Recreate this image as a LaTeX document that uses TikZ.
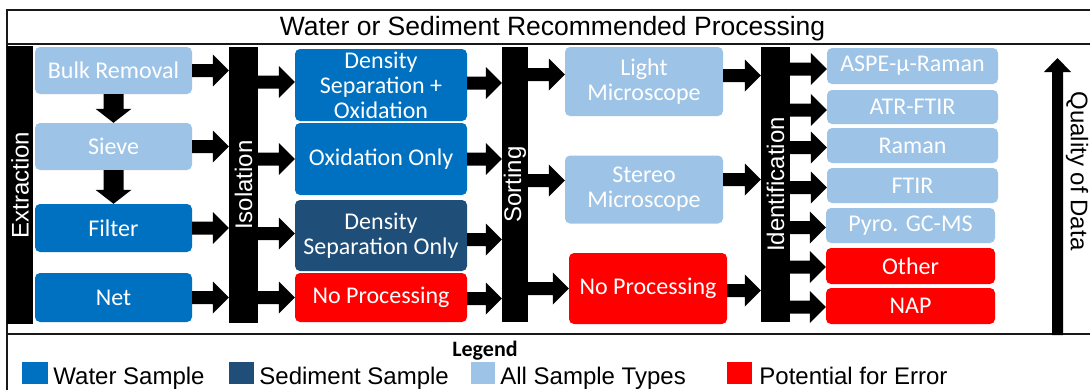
\documentclass[tikz,border=0pt]{standalone}
\usepackage{fontspec}
\usepackage{graphicx}
\setmainfont{Liberation Sans}
\newfontfamily\boxfont{Carlito}
\usetikzlibrary{calc}

\definecolor{lightbl}{HTML}{9DC3E6}
\definecolor{waterbl}{HTML}{0070C0}
\definecolor{sedbl}{HTML}{1F4E79}
\definecolor{errred}{HTML}{FF0000}

\tikzset{
  stage/.style={rounded corners=5pt, inner sep=0pt, align=center, text=white,
    font=\boxfont\fontsize{24}{25}\selectfont},
  allbox/.style={stage, fill=lightbl},
  waterbox/.style={stage, fill=waterbl},
  sedbox/.style={stage, fill=sedbl},
  errbox/.style={stage, fill=errred},
  bar/.style={fill=black, inner sep=0pt, text=white, font=\fontsize{24}{28}\selectfont},
  frameline/.style={line width=2pt, draw=black!90},
  keybox/.style={inner sep=0pt, minimum height=22pt},
  keytext/.style={anchor=base west, inner sep=0pt, font=\fontsize{24}{28}\selectfont},
}

% block arrow pointing right: shaft from #1, tip at the x of #2
\newcommand\blockright[2]{%
  \fill let \p1=#1, \p2=#2 in
    (\x1,{\y1+6.5pt}) -- ({\x2-16pt},{\y1+6.5pt}) -- ({\x2-16pt},{\y1+16pt})
    -- (\x2,\y1) -- ({\x2-16pt},{\y1-16pt}) -- ({\x2-16pt},{\y1-6.5pt})
    -- (\x1,{\y1-6.5pt}) -- cycle;}
% block arrow pointing down
\newcommand\blockdown[2]{%
  \fill let \p1=#1, \p2=#2 in
    ({\x1-10pt},\y1) -- ({\x1-10pt},{\y2+14pt}) -- ({\x1-18pt},{\y2+14pt})
    -- (\x1,\y2) -- ({\x1+18pt},{\y2+14pt}) -- ({\x1+10pt},{\y2+14pt})
    -- ({\x1+10pt},\y1) -- cycle;}
% slim arrow pointing up
\newcommand\blockup[2]{%
  \fill let \p1=#1, \p2=#2 in
    ({\x1-5.5pt},\y1) -- ({\x1-5.5pt},{\y2-14pt}) -- ({\x1-13.5pt},{\y2-14pt})
    -- (\x1,\y2) -- ({\x1+13.5pt},{\y2-14pt}) -- ({\x1+5.5pt},{\y2-14pt})
    -- ({\x1+5.5pt},\y1) -- cycle;}

\begin{document}
\begin{tikzpicture}[x=1pt, y=-1pt]
\useasboundingbox (0,0) rectangle (1090,389);
\clip (0,0) rectangle (1090,389);

% frame
\draw[frameline] (1100,10) -- (7,10) -- (7,400);
\draw[frameline] (7,44) -- (1100,44);
\draw[frameline] (7,334) -- (1100,334);

\node[anchor=base, inner sep=0pt, font=\fontsize{26.5}{30}\selectfont] (title)
  at (552.5,35) {Water or Sediment Recommended Processing};

% stage bars
\node[bar, minimum width=26pt, minimum height=278pt] (ext) at (20,185) {\rotatebox{90}{Extraction}};
\node[bar, minimum width=29pt, minimum height=276pt] (iso) at (243.5,185) {\rotatebox{90}{Isolation}};
\node[bar, minimum width=26pt, minimum height=275pt] (sort) at (515,184.5) {\rotatebox{90}{Sorting}};
\node[bar, minimum width=29pt, minimum height=275pt] (ident) at (775.5,184.5) {\rotatebox{90}{Identification}};

% extraction
\node[allbox, minimum width=157pt, minimum height=47pt] (bulk) at (113.5,70.5) {Bulk Removal};
\node[allbox, minimum width=157pt, minimum height=47pt] (sieve) at (113.5,146.5) {Sieve};
\node[waterbox, minimum width=157pt, minimum height=48pt] (filter) at (113.5,228) {Filter};
\node[waterbox, minimum width=157pt, minimum height=49pt] (net) at (113.5,297.5) {Net};

% isolation
\node[waterbox, minimum width=172pt, minimum height=72pt] (dso) at (381,85) {Density\\Separation +\\Oxidation};
\node[waterbox, minimum width=172pt, minimum height=72pt] (oxo) at (381,159) {Oxidation Only};
\node[sedbox, minimum width=172pt, minimum height=71pt] (dsonly) at (381,235.5) {Density\\Separation Only};
\node[errbox, minimum width=172pt, minimum height=49pt] (np1) at (381,297.5) {No Processing};

% sorting
\node[allbox, minimum width=158pt, minimum height=69pt] (light) at (644,81.5) {Light\\Microscope};
\node[allbox, minimum width=158pt, minimum height=68pt] (stereo) at (644,189.5) {Stereo\\Microscope};
\node[errbox, minimum width=158pt, minimum height=71pt] (np2) at (648,288.5) {No Processing};

% identification
\node[allbox, minimum width=171pt, minimum height=36pt] (aspe) at (912.5,66) {ASPE-µ-Raman};
\node[allbox, minimum width=171pt, minimum height=34pt] (atr) at (912.5,107) {ATR-FTIR};
\node[allbox, minimum width=171pt, minimum height=35pt] (raman) at (912.5,145.5) {Raman};
\node[allbox, minimum width=171pt, minimum height=35pt] (ftir) at (912.5,185.5) {FTIR};
\node[allbox, minimum width=169pt, minimum height=35pt] (pyro) at (910.5,225.5) {Pyro. GC-MS};
\node[errbox, minimum width=169pt, minimum height=36pt] (other) at (910.5,266) {Other};
\node[errbox, minimum width=169pt, minimum height=36pt] (nap) at (910.5,306) {NAP};

% extraction arrows
\blockdown{(bulk.south)}{(sieve.north)}
\blockdown{(sieve.south)}{(filter.north)}
\blockright{(bulk.east)}{(iso.west)}
\blockright{(sieve.east)}{(iso.west)}
\blockright{(filter.east)}{(iso.west)}
\blockright{(net.east)}{(iso.west)}

% isolation arrows
\blockright{($(iso.east |- dso.west)+(0,-3)$)}{(dso.west)}
\blockright{(iso.east |- oxo.west)}{(oxo.west)}
\blockright{($(iso.east |- dsonly.west)+(0,-2)$)}{(dsonly.west)}
\blockright{(iso.east |- np1.west)}{(np1.west)}
\blockright{($(dso.east)+(0,-2)$)}{(sort.west)}
\blockright{(oxo.east)}{(sort.west)}
\blockright{($(dsonly.east)+(0,4)$)}{(sort.west)}
\blockright{($(np1.east)+(0,1)$)}{(sort.west)}

% sorting arrows
\blockright{($(sort.east |- light.west)+(0,-7)$)}{(light.west)}
\blockright{($(sort.east |- stereo.west)+(0,-9)$)}{(stereo.west)}
\blockright{(sort.east |- np2.west)}{(np2.west)}
\blockright{($(light.east)+(0,-6)$)}{(ident.west)}
\blockright{($(stereo.east)+(0,-10)$)}{(ident.west)}
\blockright{($(np2.east)+(0,2)$)}{(ident.west)}

% identification arrows
\blockright{($(ident.east |- aspe.west)+(0,3)$)}{(aspe.west)}
\blockright{($(ident.east |- atr.west)+(0,3)$)}{(atr.west)}
\blockright{($(ident.east |- raman.west)+(0,2)$)}{(raman.west)}
\blockright{($(ident.east |- ftir.west)+(0,2)$)}{(ftir.west)}
\blockright{($(ident.east |- pyro.west)+(0,2)$)}{(pyro.west)}
\blockright{($(ident.east |- other.west)+(0,1)$)}{(other.west)}
\blockright{($(ident.east |- nap.west)+(0,1)$)}{(nap.west)}

% quality axis
\coordinate (qbot) at (1057.5,335);
\coordinate (qtop) at (1057.5,58);
\blockup{(qbot)}{(qtop)}
\node[rotate=-90, inner sep=0pt, font=\fontsize{24}{28}\selectfont] (quality) at (1077,171) {Quality of Data};

% legend
\node[anchor=base, inner sep=0pt, font=\boxfont\bfseries\fontsize{22}{26}\selectfont] (legendtitle)
  at (485,356) {Legend};
\node[keybox, fill=waterbl, minimum width=26pt] (kw) at (35,373) {};
\node[keytext] (tw) at ([xshift=5pt]kw.south east) {Water Sample};
\node[keybox, fill=sedbl, minimum width=25pt] (ks) at (241.5,373) {};
\node[keytext] (ts) at ([xshift=5pt]ks.south east) {Sediment Sample};
\node[keybox, fill=lightbl, minimum width=24pt] (ka) at (483,373) {};
\node[keytext] (ta) at ([xshift=5pt]ka.south east) {All Sample Types};
\node[keybox, fill=errred, minimum width=25pt] (ke) at (739.5,373) {};
\node[keytext] (te) at ([xshift=7pt]ke.south east) {Potential for Error};
\end{tikzpicture}
\end{document}
